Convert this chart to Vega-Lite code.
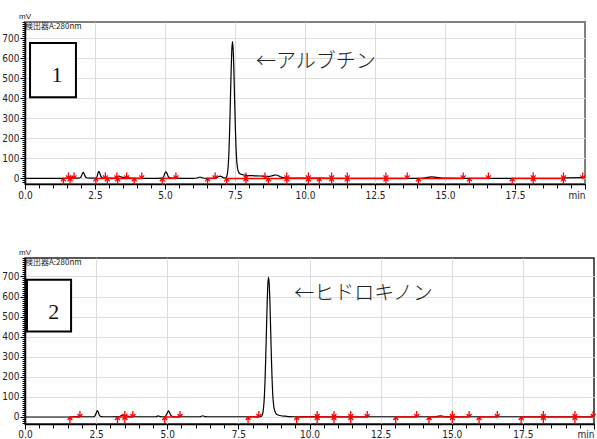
{
  "$schema": "https://vega.github.io/schema/vega-lite/v6.json",
  "background": "white",
  "padding": {"left": 0, "top": 12, "right": 0, "bottom": 0},
  "spacing": 47,
  "config": {
    "view": {"stroke": null},
    "axis": {
      "domainColor": "#000",
      "domainWidth": 1.5,
      "tickColor": "#000",
      "tickWidth": 1,
      "labelFont": "Liberation Sans Narrow, DejaVu Sans Condensed, Liberation Sans",
      "labelFontSize": 10,
      "labelColor": "#222",
      "gridColor": "#dddddd",
      "gridWidth": 1,
      "labelOverlap": false,
      "labelBound": false,
      "labelFlush": false,
      "tickCount": 500
    }
  },
  "datasets": {
    "trace1": [
      {"t": 0, "v": 0}, {"t": 1.0, "v": 0}, {"t": 1.45, "v": 0}, {"t": 1.55, "v": 3}, {"t": 1.62, "v": 8}, {"t": 1.68, "v": 5}, {"t": 1.75, "v": 2}, {"t": 1.9, "v": 1},
      {"t": 1.98, "v": 4}, {"t": 2.02, "v": 14}, {"t": 2.06, "v": 27}, {"t": 2.08, "v": 30}, {"t": 2.11, "v": 24}, {"t": 2.15, "v": 10}, {"t": 2.2, "v": 3}, {"t": 2.3, "v": 1},
      {"t": 2.45, "v": 1}, {"t": 2.55, "v": 3}, {"t": 2.58, "v": 12}, {"t": 2.61, "v": 28}, {"t": 2.64, "v": 35}, {"t": 2.67, "v": 26}, {"t": 2.71, "v": 10}, {"t": 2.76, "v": 3},
      {"t": 2.85, "v": 1}, {"t": 3.2, "v": 1}, {"t": 3.3, "v": 6}, {"t": 3.38, "v": 10}, {"t": 3.45, "v": 6}, {"t": 3.55, "v": 4}, {"t": 3.62, "v": 8}, {"t": 3.68, "v": 5},
      {"t": 3.8, "v": 1}, {"t": 4.5, "v": 0}, {"t": 4.9, "v": 1}, {"t": 4.95, "v": 8}, {"t": 4.99, "v": 24}, {"t": 5.03, "v": 33}, {"t": 5.07, "v": 25}, {"t": 5.12, "v": 9},
      {"t": 5.18, "v": 3}, {"t": 5.3, "v": 1}, {"t": 6.0, "v": 0}, {"t": 6.15, "v": 2}, {"t": 6.25, "v": 7}, {"t": 6.35, "v": 2}, {"t": 6.5, "v": 0}, {"t": 6.8, "v": 1},
      {"t": 6.9, "v": 8}, {"t": 6.98, "v": 11}, {"t": 7.06, "v": 5}, {"t": 7.15, "v": 2},
      {"t": 7.185, "v": 4}, {"t": 7.21, "v": 12}, {"t": 7.235, "v": 30}, {"t": 7.26, "v": 68}, {"t": 7.285, "v": 138}, {"t": 7.31, "v": 245}, {"t": 7.335, "v": 383},
      {"t": 7.36, "v": 527}, {"t": 7.385, "v": 638}, {"t": 7.41, "v": 682}, {"t": 7.435, "v": 642}, {"t": 7.46, "v": 540}, {"t": 7.485, "v": 400}, {"t": 7.51, "v": 265},
      {"t": 7.535, "v": 160}, {"t": 7.56, "v": 92}, {"t": 7.59, "v": 52}, {"t": 7.63, "v": 32}, {"t": 7.68, "v": 23}, {"t": 7.78, "v": 18}, {"t": 7.9, "v": 15},
      {"t": 8.0, "v": 14}, {"t": 8.2, "v": 13}, {"t": 8.4, "v": 12}, {"t": 8.55, "v": 10}, {"t": 8.7, "v": 9}, {"t": 8.8, "v": 12}, {"t": 8.9, "v": 16}, {"t": 8.97, "v": 17},
      {"t": 9.05, "v": 13}, {"t": 9.15, "v": 6}, {"t": 9.3, "v": 2}, {"t": 9.5, "v": 1}, {"t": 10.5, "v": 1}, {"t": 12.0, "v": 0}, {"t": 14.0, "v": 0}, {"t": 14.3, "v": 3},
      {"t": 14.5, "v": 8}, {"t": 14.7, "v": 5}, {"t": 14.9, "v": 2}, {"t": 15.2, "v": 1}, {"t": 16.0, "v": 0}, {"t": 19.2, "v": 0}, {"t": 19.3, "v": 3}, {"t": 19.9, "v": 4}, {"t": 20.0, "v": 4}
    ],
    "trace2": [
      {"t": 0, "v": 0}, {"t": 1.5, "v": 0}, {"t": 1.8, "v": 2}, {"t": 1.95, "v": 1}, {"t": 2.4, "v": 1}, {"t": 2.46, "v": 6}, {"t": 2.5, "v": 18}, {"t": 2.54, "v": 32},
      {"t": 2.58, "v": 22}, {"t": 2.62, "v": 7}, {"t": 2.68, "v": 2}, {"t": 2.8, "v": 1}, {"t": 3.3, "v": 2}, {"t": 3.4, "v": 8}, {"t": 3.47, "v": 11}, {"t": 3.55, "v": 6},
      {"t": 3.65, "v": 3}, {"t": 3.8, "v": 1}, {"t": 4.6, "v": 1}, {"t": 4.68, "v": 5}, {"t": 4.75, "v": 2}, {"t": 4.9, "v": 1}, {"t": 4.95, "v": 6}, {"t": 5.0, "v": 20},
      {"t": 5.04, "v": 30}, {"t": 5.08, "v": 22}, {"t": 5.13, "v": 8}, {"t": 5.2, "v": 2}, {"t": 5.35, "v": 1}, {"t": 6.15, "v": 1}, {"t": 6.25, "v": 6}, {"t": 6.33, "v": 2},
      {"t": 6.5, "v": 1}, {"t": 8.2, "v": 1}, {"t": 8.31, "v": 3}, {"t": 8.335, "v": 8}, {"t": 8.36, "v": 20}, {"t": 8.385, "v": 46}, {"t": 8.41, "v": 94}, {"t": 8.435, "v": 173},
      {"t": 8.46, "v": 286}, {"t": 8.485, "v": 422}, {"t": 8.51, "v": 557}, {"t": 8.535, "v": 657}, {"t": 8.56, "v": 695}, {"t": 8.585, "v": 660}, {"t": 8.61, "v": 565},
      {"t": 8.635, "v": 435}, {"t": 8.66, "v": 300}, {"t": 8.685, "v": 188}, {"t": 8.71, "v": 108}, {"t": 8.74, "v": 58}, {"t": 8.78, "v": 30}, {"t": 8.83, "v": 16},
      {"t": 8.9, "v": 10}, {"t": 9.0, "v": 6}, {"t": 9.15, "v": 4}, {"t": 9.3, "v": 2}, {"t": 9.6, "v": 1}, {"t": 10.0, "v": 2}, {"t": 10.5, "v": 1}, {"t": 14.4, "v": 1},
      {"t": 14.6, "v": 5}, {"t": 14.8, "v": 2}, {"t": 15.2, "v": 1}, {"t": 20.0, "v": 1}
    ],
    "seg1": [
      {"t": 1.37, "t2": 1.75}, {"t": 2.53, "t2": 4.17}, {"t": 4.9, "t2": 5.39}, {"t": 6.52, "t2": 6.79}, {"t": 7.2, "t2": 13.65},
      {"t": 14.05, "t2": 15.65}, {"t": 15.87, "t2": 16.55}, {"t": 17.4, "t2": 19.23}
    ],
    "seg2": [
      {"t": 1.58, "t2": 1.93}, {"t": 3.25, "t2": 3.79}, {"t": 4.91, "t2": 5.45}, {"t": 7.84, "t2": 8.22}, {"t": 9.55, "t2": 12.03},
      {"t": 13.03, "t2": 13.77}, {"t": 14.2, "t2": 15.61}, {"t": 15.96, "t2": 16.6}, {"t": 17.44, "t2": 19.97}
    ],
    "mk1": [
      {"t": 1.37, "dir": "up"}, {"t": 1.55, "dir": "down"}, {"t": 1.61, "dir": "up"}, {"t": 1.75, "dir": "down"}, {"t": 2.53, "dir": "up"}, {"t": 2.87, "dir": "down"},
      {"t": 2.94, "dir": "up"}, {"t": 3.28, "dir": "down"}, {"t": 3.31, "dir": "up"}, {"t": 3.63, "dir": "down"}, {"t": 3.9, "dir": "up"}, {"t": 4.17, "dir": "down"},
      {"t": 4.9, "dir": "up"}, {"t": 5.39, "dir": "down"}, {"t": 6.52, "dir": "up"}, {"t": 6.79, "dir": "down"}, {"t": 7.2, "dir": "up"}, {"t": 7.89, "dir": "down"},
      {"t": 7.89, "dir": "up"}, {"t": 8.57, "dir": "down"}, {"t": 8.69, "dir": "up"}, {"t": 9.35, "dir": "down"}, {"t": 9.35, "dir": "up"}, {"t": 10.12, "dir": "down"},
      {"t": 10.12, "dir": "up"}, {"t": 10.51, "dir": "up"}, {"t": 10.95, "dir": "down"}, {"t": 10.95, "dir": "up"}, {"t": 11.51, "dir": "down"}, {"t": 11.51, "dir": "up"},
      {"t": 12.89, "dir": "down"}, {"t": 12.89, "dir": "up"}, {"t": 13.65, "dir": "down"}, {"t": 14.05, "dir": "up"}, {"t": 15.65, "dir": "down"}, {"t": 15.87, "dir": "up"},
      {"t": 16.55, "dir": "down"}, {"t": 17.4, "dir": "up"}, {"t": 18.15, "dir": "down"}, {"t": 18.15, "dir": "up"}, {"t": 19.23, "dir": "down"}, {"t": 19.23, "dir": "up"},
      {"t": 19.92, "dir": "down"}
    ],
    "mk2": [
      {"t": 1.58, "dir": "up"}, {"t": 1.93, "dir": "down"}, {"t": 3.25, "dir": "up"}, {"t": 3.51, "dir": "down"}, {"t": 3.51, "dir": "up"}, {"t": 3.79, "dir": "down"},
      {"t": 4.91, "dir": "up"}, {"t": 5.45, "dir": "down"}, {"t": 7.84, "dir": "up"}, {"t": 8.22, "dir": "down"}, {"t": 9.55, "dir": "up"}, {"t": 10.27, "dir": "down"},
      {"t": 10.27, "dir": "up"}, {"t": 10.86, "dir": "down"}, {"t": 10.86, "dir": "up"}, {"t": 11.45, "dir": "down"}, {"t": 11.45, "dir": "up"}, {"t": 12.03, "dir": "down"},
      {"t": 13.03, "dir": "up"}, {"t": 13.77, "dir": "down"}, {"t": 14.2, "dir": "up"}, {"t": 15.02, "dir": "down"}, {"t": 15.02, "dir": "up"}, {"t": 15.61, "dir": "down"},
      {"t": 15.96, "dir": "up"}, {"t": 16.6, "dir": "down"}, {"t": 17.44, "dir": "up"}, {"t": 18.22, "dir": "down"}, {"t": 18.22, "dir": "up"}, {"t": 19.33, "dir": "down"},
      {"t": 19.33, "dir": "up"}, {"t": 19.97, "dir": "down"}
    ],
    "box1": [{"t": 0.18, "t2": 1.82, "v": 405, "v2": 675, "label": "1", "tc": 1.14, "vc": 517}],
    "box2": [{"t": 0.07, "t2": 1.62, "v": 426, "v2": 684, "label": "2", "tc": 1.01, "vc": 525}],
    "note1": [{"t": 8.25, "v": 580, "label": "←アルブチン"}],
    "note2": [{"t": 9.46, "v": 612, "label": "←ヒドロキノン"}],
    "hdr1": [{"t": 0, "v": 780, "unit": "mV", "det": "検出器A:280nm"}],
    "hdr2": [{"t": 0, "v": 792, "unit": "mV", "det": "検出器A:280nm"}]
  },
  "vconcat": [
    {
      "width": 560,
      "height": 162,
      "view": {"stroke": "#808080", "strokeWidth": 2},
      "layer": [
        {
          "data": {"name": "trace1"},
          "mark": {"type": "line", "color": "#000", "strokeWidth": 1.2, "interpolate": "monotone"},
          "encoding": {
            "x": {"field": "t", "type": "quantitative", "scale": {"domain": [0, 20], "nice": false, "zero": false},
              "axis": {"title": null, "tickCount": 500,
                "values": [0,0.5,1,1.5,2,2.5,3,3.5,4,4.5,5,5.5,6,6.5,7,7.5,8,8.5,9,9.5,10,10.5,11,11.5,12,12.5,13,13.5,14,14.5,15,15.5,16,16.5,17,17.5,18,18.5,19,19.5,20],
                "labelExpr": "datum.value == 20 ? 'min' : (datum.value % 2.5 == 0 ? format(datum.value, '.1f') : '')",
                "labelAlign": {"condition": {"test": "datum.value == 20", "value": "right"}, "value": "center"},
                "tickSize": {"condition": {"test": "datum.value % 2.5 == 0", "value": 5}, "value": 4},
                "gridOpacity": {"condition": {"test": "datum.value % 2.5 == 0 && datum.value > 0 && datum.value < 20", "value": 1}, "value": 0},
                "labelPadding": 1}},
            "y": {"field": "v", "type": "quantitative", "scale": {"domain": [-28, 780], "nice": false, "zero": false},
              "axis": {"title": null, "tickCount": 500,
                "values": [-20,-10,0,10,20,30,40,50,60,70,80,90,100,110,120,130,140,150,160,170,180,190,200,210,220,230,240,250,260,270,280,290,300,310,320,330,340,350,360,370,380,390,400,410,420,430,440,450,460,470,480,490,500,510,520,530,540,550,560,570,580,590,600,610,620,630,640,650,660,670,680,690,700,710,720,730,740,750,760,770,780],
                "labelExpr": "datum.value % 100 == 0 ? datum.label : ''",
                "tickSize": {"condition": {"test": "datum.value % 100 == 0", "value": 5}, "value": 3},
                "gridOpacity": {"condition": {"test": "datum.value % 100 == 0", "value": 1}, "value": 0},
                "labelPadding": 1}}
          }
        },
        {
          "data": {"name": "seg1"},
          "mark": {"type": "rule", "color": "#ff0000", "strokeWidth": 1.5},
          "encoding": {"x": {"field": "t", "type": "quantitative"}, "x2": {"field": "t2"}, "y": {"datum": 0, "type": "quantitative"}}
        },
        {
          "data": {"name": "mk1"},
          "mark": {"type": "point", "filled": false, "stroke": "#ff0000", "strokeWidth": 1.3, "size": 144, "opacity": 1},
          "encoding": {
            "x": {"field": "t", "type": "quantitative"},
            "y": {"datum": 0, "type": "quantitative"},
            "shape": {"field": "dir", "type": "nominal", "legend": null,
              "scale": {"domain": ["up", "down"], "range": ["M0,0L0,1M-0.4,0.5L0,0L0.4,0.5", "M0,0L0,-1M-0.4,-0.5L0,0L0.4,-0.5"]}}
          }
        },
        {
          "data": {"name": "box1"},
          "mark": {"type": "rect", "fill": "white", "stroke": "#000", "strokeWidth": 2},
          "encoding": {"x": {"field": "t", "type": "quantitative"}, "x2": {"field": "t2"}, "y": {"field": "v", "type": "quantitative"}, "y2": {"field": "v2"}}
        },
        {
          "data": {"name": "box1"},
          "mark": {"type": "text", "font": "Liberation Serif", "fontSize": 22, "color": "#111", "align": "center", "baseline": "middle"},
          "encoding": {"x": {"field": "tc", "type": "quantitative"}, "y": {"field": "vc", "type": "quantitative"}, "text": {"field": "label"}}
        },
        {
          "data": {"name": "note1"},
          "mark": {"type": "text", "font": "Noto Sans CJK JP", "fontWeight": 300, "fontSize": 20, "color": "#222", "align": "left", "baseline": "middle"},
          "encoding": {"x": {"field": "t", "type": "quantitative"}, "y": {"field": "v", "type": "quantitative"}, "text": {"field": "label"}}
        },
        {
          "data": {"name": "hdr1"},
          "mark": {"type": "text", "font": "Liberation Sans", "fontSize": 8, "color": "#222", "align": "center", "baseline": "bottom", "dy": -1},
          "encoding": {"x": {"field": "t", "type": "quantitative"}, "y": {"field": "v", "type": "quantitative"}, "text": {"field": "unit"}}
        },
        {
          "data": {"name": "hdr1"},
          "mark": {"type": "text", "font": "Noto Sans CJK JP", "fontSize": 8, "color": "#222", "align": "left", "baseline": "top", "dy": 1, "dx": 0},
          "encoding": {"x": {"field": "t", "type": "quantitative"}, "y": {"field": "v", "type": "quantitative"}, "text": {"field": "det"}}
        }
      ]
    },
    {
      "width": 569,
      "height": 166,
      "view": {"stroke": "#222", "strokeWidth": 1.5},
      "layer": [
        {
          "data": {"name": "trace2"},
          "mark": {"type": "line", "color": "#000", "strokeWidth": 1.2, "interpolate": "monotone"},
          "encoding": {
            "x": {"field": "t", "type": "quantitative", "scale": {"domain": [0, 20], "nice": false, "zero": false},
              "axis": {"title": null, "tickCount": 500,
                "values": [0,0.5,1,1.5,2,2.5,3,3.5,4,4.5,5,5.5,6,6.5,7,7.5,8,8.5,9,9.5,10,10.5,11,11.5,12,12.5,13,13.5,14,14.5,15,15.5,16,16.5,17,17.5,18,18.5,19,19.5,20],
                "labelExpr": "datum.value == 20 ? 'min' : (datum.value % 2.5 == 0 ? format(datum.value, '.1f') : '')",
                "labelAlign": {"condition": {"test": "datum.value == 20", "value": "right"}, "value": "center"},
                "tickSize": {"condition": {"test": "datum.value % 2.5 == 0", "value": 5}, "value": 4},
                "gridOpacity": {"condition": {"test": "datum.value % 2.5 == 0 && datum.value > 0 && datum.value < 20", "value": 1}, "value": 0},
                "labelPadding": 0}},
            "y": {"field": "v", "type": "quantitative", "scale": {"domain": [-35, 792], "nice": false, "zero": false},
              "axis": {"title": null, "tickCount": 500,
                "values": [-30,-20,-10,0,10,20,30,40,50,60,70,80,90,100,110,120,130,140,150,160,170,180,190,200,210,220,230,240,250,260,270,280,290,300,310,320,330,340,350,360,370,380,390,400,410,420,430,440,450,460,470,480,490,500,510,520,530,540,550,560,570,580,590,600,610,620,630,640,650,660,670,680,690,700,710,720,730,740,750,760,770,780,790],
                "labelExpr": "datum.value % 100 == 0 ? datum.label : ''",
                "tickSize": {"condition": {"test": "datum.value % 100 == 0", "value": 5}, "value": 3},
                "gridOpacity": {"condition": {"test": "datum.value % 100 == 0", "value": 1}, "value": 0},
                "labelPadding": 1}}
          }
        },
        {
          "data": {"name": "seg2"},
          "mark": {"type": "rule", "color": "#ff0000", "strokeWidth": 1.5},
          "encoding": {"x": {"field": "t", "type": "quantitative"}, "x2": {"field": "t2"}, "y": {"datum": 0, "type": "quantitative"}}
        },
        {
          "data": {"name": "mk2"},
          "mark": {"type": "point", "filled": false, "stroke": "#ff0000", "strokeWidth": 1.3, "size": 144, "opacity": 1},
          "encoding": {
            "x": {"field": "t", "type": "quantitative"},
            "y": {"datum": 0, "type": "quantitative"},
            "shape": {"field": "dir", "type": "nominal", "legend": null,
              "scale": {"domain": ["up", "down"], "range": ["M0,0L0,1M-0.4,0.5L0,0L0.4,0.5", "M0,0L0,-1M-0.4,-0.5L0,0L0.4,-0.5"]}}
          }
        },
        {
          "data": {"name": "box2"},
          "mark": {"type": "rect", "fill": "white", "stroke": "#000", "strokeWidth": 2},
          "encoding": {"x": {"field": "t", "type": "quantitative"}, "x2": {"field": "t2"}, "y": {"field": "v", "type": "quantitative"}, "y2": {"field": "v2"}}
        },
        {
          "data": {"name": "box2"},
          "mark": {"type": "text", "font": "Liberation Serif", "fontSize": 22, "color": "#111", "align": "center", "baseline": "middle"},
          "encoding": {"x": {"field": "tc", "type": "quantitative"}, "y": {"field": "vc", "type": "quantitative"}, "text": {"field": "label"}}
        },
        {
          "data": {"name": "note2"},
          "mark": {"type": "text", "font": "Noto Sans CJK JP", "fontWeight": 300, "fontSize": 20, "color": "#222", "align": "left", "baseline": "middle"},
          "encoding": {"x": {"field": "t", "type": "quantitative"}, "y": {"field": "v", "type": "quantitative"}, "text": {"field": "label"}}
        },
        {
          "data": {"name": "hdr2"},
          "mark": {"type": "text", "font": "Liberation Sans", "fontSize": 8, "color": "#222", "align": "center", "baseline": "bottom", "dy": -1},
          "encoding": {"x": {"field": "t", "type": "quantitative"}, "y": {"field": "v", "type": "quantitative"}, "text": {"field": "unit"}}
        },
        {
          "data": {"name": "hdr2"},
          "mark": {"type": "text", "font": "Noto Sans CJK JP", "fontSize": 8, "color": "#222", "align": "left", "baseline": "top", "dy": 1, "dx": 0},
          "encoding": {"x": {"field": "t", "type": "quantitative"}, "y": {"field": "v", "type": "quantitative"}, "text": {"field": "det"}}
        }
      ]
    }
  ]
}
